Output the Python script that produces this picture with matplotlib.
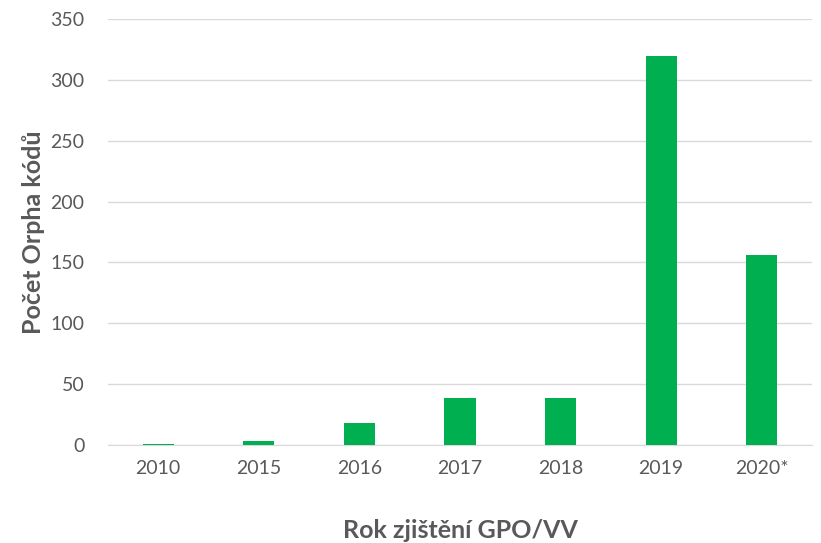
import matplotlib.pyplot as plt

# Data
years = ['2010', '2015', '2016', '2017', '2018', '2019', '2020*']
counts = [1, 3, 18, 39, 39, 320, 156]

plt.rcParams['font.family'] = ['Lato', 'DejaVu Sans']

fig = plt.figure(figsize=(8.21, 5.43), dpi=100)
ax = fig.add_axes([0.1315, 0.1805, 0.8575, 0.7845])

ax.bar(range(len(years)), counts, width=0.31, color='#00B050', zorder=3)

ax.set_xlim(-0.5, len(years) - 0.5)
ax.set_ylim(0, 350)
ax.set_yticks(range(0, 351, 50))
ax.set_xticks(range(len(years)))
ax.set_xticklabels(years)

ax.grid(axis='y', color='#D9D9D9', linewidth=1, zorder=0)
for side in ['top', 'right', 'left']:
    ax.spines[side].set_visible(False)
ax.spines['bottom'].set_color('#D9D9D9')
ax.tick_params(axis='both', length=0, labelsize=14, colors='#595959')
ax.tick_params(axis='y', pad=17)
ax.tick_params(axis='x', pad=11)

ax.set_ylabel('Počet Orpha kódů', fontsize=18, fontweight='bold', color='#595959', labelpad=4)
ax.set_xlabel('Rok zjištění GPO/VV', fontsize=18, fontweight='bold', color='#595959', labelpad=30)

fig.savefig('out.png', dpi=100)
